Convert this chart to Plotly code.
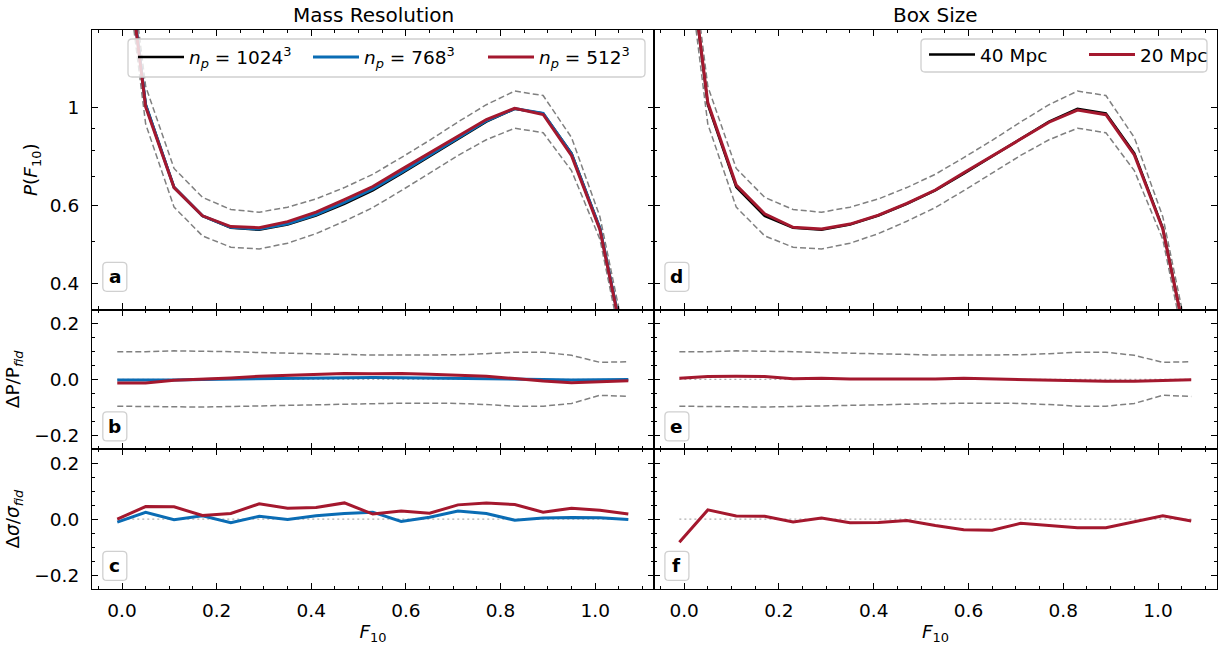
import plotly.graph_objects as go

# ---------------- data ----------------
F10 = [-0.01, 0.05, 0.11, 0.17, 0.23, 0.29, 0.35, 0.41, 0.47, 0.53,
       0.59, 0.65, 0.71, 0.77, 0.83, 0.89, 0.95, 1.01, 1.07]

# P(F10) fiducial (n_p = 1024^3, 40 Mpc)
p_fid = [3.34, 1.018, 0.662, 0.570, 0.536, 0.530, 0.545, 0.571, 0.607, 0.651,
         0.710, 0.777, 0.854, 0.931, 0.995, 0.972, 0.789, 0.535, 0.261]
# n_p = 768^3
p_768 = [3.333, 1.015, 0.661, 0.570, 0.537, 0.532, 0.547, 0.574, 0.611, 0.656,
         0.714, 0.781, 0.857, 0.935, 0.996, 0.972, 0.787, 0.534, 0.261]
# n_p = 512^3
p_512 = [3.30, 1.005, 0.660, 0.570, 0.539, 0.536, 0.553, 0.581, 0.620, 0.664,
         0.725, 0.791, 0.866, 0.941, 0.998, 0.966, 0.780, 0.530, 0.260]
# 20 Mpc box
p_20 = [3.353, 1.028, 0.669, 0.576, 0.537, 0.532, 0.546, 0.572, 0.608, 0.652,
        0.713, 0.779, 0.853, 0.928, 0.989, 0.965, 0.783, 0.532, 0.261]

# relative 1-sigma band (upper / lower)
sig_up = [0.099, 0.099, 0.102, 0.101, 0.099, 0.096, 0.094, 0.090, 0.088, 0.087,
          0.087, 0.087, 0.088, 0.092, 0.097, 0.097, 0.086, 0.061, 0.063]
sig_lo = [-0.096, -0.097, -0.099, -0.099, -0.097, -0.095, -0.093, -0.090, -0.087, -0.086,
          -0.085, -0.085, -0.086, -0.090, -0.096, -0.096, -0.086, -0.057, -0.061]

# Delta P / P_fid
dP_768 = [-0.002, -0.003, -0.002, 0.000, 0.001, 0.003, 0.004, 0.005, 0.007, 0.007,
          0.006, 0.005, 0.004, 0.004, 0.001, 0.000, -0.002, -0.002, 0.000]
dP_512 = [-0.013, -0.013, -0.003, 0.000, 0.005, 0.011, 0.015, 0.018, 0.021, 0.020,
          0.021, 0.018, 0.014, 0.011, 0.003, -0.006, -0.012, -0.009, -0.005]
dP_20 = [0.004, 0.010, 0.011, 0.010, 0.002, 0.004, 0.001, 0.001, 0.001, 0.001,
         0.004, 0.002, -0.001, -0.003, -0.006, -0.007, -0.007, -0.005, -0.001]

# Delta sigma / sigma_fid
ds_768 = [-0.011, 0.024, -0.002, 0.012, -0.013, 0.010, -0.001, 0.012, 0.020, 0.025,
          -0.008, 0.007, 0.029, 0.020, -0.004, 0.004, 0.006, 0.005, -0.001]
ds_512 = [0.000, 0.045, 0.044, 0.013, 0.020, 0.055, 0.039, 0.042, 0.058, 0.018,
          0.029, 0.021, 0.051, 0.058, 0.052, 0.025, 0.039, 0.032, 0.018]
ds_20 = [-0.083, 0.033, 0.011, 0.010, -0.010, 0.004, -0.013, -0.012, -0.005, -0.023,
         -0.038, -0.040, -0.015, -0.023, -0.031, -0.031, -0.010, 0.012, -0.007]

zero = [0.0] * len(F10)
band_up = [p * (1 + s) for p, s in zip(p_fid, sig_up)]
band_lo = [p * (1 + s) for p, s in zip(p_fid, sig_lo)]

BLACK = "#000000"
BLUE = "#0a6cb4"
RED = "#a4182e"
GRAY = "#808080"
FONT = "DejaVu Sans"
FS = 18.5
FS_T = 20

W, H = 1225, 648
ML, MR, MT, MB = 92, 8, 30, 59
PW, PH = W - ML - MR, H - MT - MB


def px_x(px):
    return (px - ML) / PW


def px_y(py):
    return (H - MB - py) / PH


fig = go.Figure()


def line(x, y, xa, ya, color, width=3, dash=None, name=None, legend=None, show=False):
    fig.add_trace(go.Scatter(
        x=x, y=y, mode="lines", xaxis=xa, yaxis=ya,
        line=dict(color=color, width=width, dash=dash),
        name=name, showlegend=show, legend=legend, hoverinfo="skip"))


DASH = "6px,3px"
DOT = "2px,3px"
ZC = "#b0b0b0"

# ---- panel a ----
line(F10, band_up, "x", "y", GRAY, 1.5, DASH)
line(F10, band_lo, "x", "y", GRAY, 1.5, DASH)
line(F10, p_fid, "x", "y", BLACK, 2.5, name="<i>n</i><sub><i>p</i></sub> = 1024<sup>3</sup>", legend="legend", show=True)
line(F10, p_768, "x", "y", BLUE, 3, name="<i>n</i><sub><i>p</i></sub> = 768<sup>3</sup>", legend="legend", show=True)
line(F10, p_512, "x", "y", RED, 3, name="<i>n</i><sub><i>p</i></sub> = 512<sup>3</sup>", legend="legend", show=True)
# ---- panel b ----
line(F10, zero, "x2", "y2", ZC, 1.2, DOT)
line(F10, sig_up, "x2", "y2", GRAY, 1.5, DASH)
line(F10, sig_lo, "x2", "y2", GRAY, 1.5, DASH)
line(F10, dP_768, "x2", "y2", BLUE, 3)
line(F10, dP_512, "x2", "y2", RED, 3)
# ---- panel c ----
line(F10, zero, "x3", "y3", ZC, 1.2, DOT)
line(F10, ds_768, "x3", "y3", BLUE, 3)
line(F10, ds_512, "x3", "y3", RED, 3)
# ---- panel d ----
line(F10, band_up, "x4", "y4", GRAY, 1.5, DASH)
line(F10, band_lo, "x4", "y4", GRAY, 1.5, DASH)
line(F10, p_fid, "x4", "y4", BLACK, 2.5, name="40 Mpc", legend="legend2", show=True)
line(F10, p_20, "x4", "y4", RED, 3, name="20 Mpc", legend="legend2", show=True)
# ---- panel e ----
line(F10, zero, "x5", "y5", ZC, 1.2, DOT)
line(F10, sig_up, "x5", "y5", GRAY, 1.5, DASH)
line(F10, sig_lo, "x5", "y5", GRAY, 1.5, DASH)
line(F10, dP_20, "x5", "y5", RED, 3)
# ---- panel f ----
line(F10, zero, "x6", "y6", ZC, 1.2, DOT)
line(F10, ds_20, "x6", "y6", RED, 3)

XR = [-0.0634, 1.1244]
XL = [0.0, 0.4996]
XRT = [0.4996, 1.0]
Y_TOP = [0.5, 1.0]
Y_MID = [0.25, 0.5]
Y_BOT = [0.0, 0.25]

common = dict(showline=True, linecolor="black", linewidth=1.2, mirror="ticks",
              ticks="inside", ticklen=6, tickwidth=1, tickcolor="black",
              showgrid=False, zeroline=False, automargin=False,
              tickfont=dict(family=FONT, size=FS, color="black"))


def xaxis(domain, anchor, labels):
    d = dict(common)
    d.update(domain=domain, anchor=anchor, range=XR, tickmode="array",
             tickvals=[0.0, 0.2, 0.4, 0.6, 0.8, 1.0],
             ticktext=["0.0", "0.2", "0.4", "0.6", "0.8", "1.0"],
             showticklabels=labels, ticklabelstandoff=5,
             minor=dict(tickmode="array",
                        tickvals=[v / 100 for v in range(-5, 115, 5) if v % 20 != 0],
                        ticks="inside", ticklen=3, tickwidth=1, tickcolor="black"))
    if labels:
        d["title"] = dict(text="<i>F</i><sub>10</sub>", standoff=4,
                          font=dict(family=FONT, size=FS, color="black"))
    return d


def yaxis_top(domain, anchor, labels, title=None):
    d = dict(common)
    d.update(domain=domain, anchor=anchor, type="log",
             range=[-0.45593, 0.17609], tickmode="array",
             tickvals=[0.4, 0.6, 1.0], ticktext=["0.4", "0.6", "1"],
             showticklabels=labels, ticklabelstandoff=8,
             minor=dict(tickmode="array", tickvals=[0.5, 0.7, 0.8, 0.9],
                        ticks="inside", ticklen=3, tickwidth=1, tickcolor="black"))
    if title:
        d["title"] = dict(text=title, standoff=7, font=dict(family=FONT, size=FS, color="black"))
    return d


def yaxis_res(domain, anchor, labels, title=None):
    d = dict(common)
    d.update(domain=domain, anchor=anchor, range=[-0.25, 0.25], tickmode="array",
             tickvals=[-0.2, 0.0, 0.2], ticktext=["\u22120.2", "0.0", "0.2"],
             showticklabels=labels, ticklabelstandoff=8,
             minor=dict(tickmode="array", tickvals=[-0.15, -0.1, -0.05, 0.05, 0.1, 0.15],
                        ticks="inside", ticklen=3, tickwidth=1, tickcolor="black"))
    if title:
        d["title"] = dict(text=title, standoff=9, font=dict(family=FONT, size=FS, color="black"))
    return d


legend_common = dict(orientation="h", xanchor="left", yanchor="middle",
                     bgcolor="rgba(0,0,0,0)", borderwidth=0,
                     font=dict(family=FONT, size=FS, color="black"),
                     entrywidthmode="pixels", itemwidth=46)

layout = dict(
    width=W, height=H,
    margin=dict(l=ML, r=MR, t=MT, b=MB, autoexpand=False),
    paper_bgcolor="white", plot_bgcolor="white",
    font=dict(family=FONT, size=FS, color="black"),
    xaxis=xaxis(XL, "y", False),
    xaxis2=xaxis(XL, "y2", False),
    xaxis3=xaxis(XL, "y3", True),
    xaxis4=xaxis(XRT, "y4", False),
    xaxis5=xaxis(XRT, "y5", False),
    xaxis6=xaxis(XRT, "y6", True),
    yaxis=yaxis_top(Y_TOP, "x", True, "<i>P</i>(<i>F</i><sub>10</sub>)"),
    yaxis2=yaxis_res(Y_MID, "x2", True, "\u0394P/P<sub><i>fid</i></sub>"),
    yaxis3=yaxis_res(Y_BOT, "x3", True, "\u0394<i>\u03c3</i>/<i>\u03c3</i><sub><i>fid</i></sub>"),
    yaxis4=yaxis_top(Y_TOP, "x4", False),
    yaxis5=yaxis_res(Y_MID, "x5", False),
    yaxis6=yaxis_res(Y_BOT, "x6", False),
    legend=dict(legend_common, x=px_x(133), y=px_y(57.5), entrywidth=114),
    legend2=dict(legend_common, x=px_x(924), y=px_y(55), entrywidth=99),
    showlegend=True,
)
fig.update_layout(**layout)


def rounded_box(x0, y0, x1, y1, r=4):
    # pixel coordinates (top-left origin) -> paper path
    X0, X1 = px_x(x0), px_x(x1)
    Y0, Y1 = px_y(y1), px_y(y0)  # bottom, top in paper
    rx, ry = r / PW, r / PH
    return (f"M {X0 + rx},{Y0} L {X1 - rx},{Y0} Q {X1},{Y0} {X1},{Y0 + ry} "
            f"L {X1},{Y1 - ry} Q {X1},{Y1} {X1 - rx},{Y1} L {X0 + rx},{Y1} "
            f"Q {X0},{Y1} {X0},{Y1 - ry} L {X0},{Y0 + ry} Q {X0},{Y0} {X0 + rx},{Y0} Z")


# legend frames
for box in [(128, 39, 645, 77), (921, 39, 1207, 72)]:
    fig.add_shape(type="path", xref="paper", yref="paper", path=rounded_box(*box, r=4),
                  line=dict(color="#d0d0d0", width=1.3), fillcolor="rgba(255,255,255,0.8)",
                  layer="above")

# column titles
for xc, txt in [(0.25, "Mass Resolution"), (0.75, "Box Size")]:
    fig.add_annotation(x=xc, y=1, xref="paper", yref="paper", text=txt,
                       showarrow=False, xanchor="center", yanchor="bottom", yshift=1,
                       font=dict(family=FONT, size=FS_T, color="black"))

# panel labels in rounded boxes
labels = [("a", "x", "y", 0.117), ("b", "x2", "y2", 0.163), ("c", "x3", "y3", 0.165),
          ("d", "x4", "y4", 0.117), ("e", "x5", "y5", 0.163), ("f", "x6", "y6", 0.165)]
hw, hh, r = 12, 14.5, 4
path = (f"M {-hw + r},{-hh} L {hw - r},{-hh} Q {hw},{-hh} {hw},{-hh + r} "
        f"L {hw},{hh - r} Q {hw},{hh} {hw - r},{hh} L {-hw + r},{hh} "
        f"Q {-hw},{hh} {-hw},{hh - r} L {-hw},{-hh + r} Q {-hw},{-hh} {-hw + r},{-hh} Z")
for txt, xa, ya, yf in labels:
    xf = 0.0406
    fig.add_shape(type="path", xref=f"{xa} domain", yref=f"{ya} domain",
                  xsizemode="pixel", ysizemode="pixel", xanchor=xf, yanchor=yf,
                  path=path, line=dict(color="#d0d0d0", width=1.3),
                  fillcolor="rgba(255,255,255,0.85)", layer="above")
    fig.add_annotation(x=xf, y=yf, xref=f"{xa} domain", yref=f"{ya} domain",
                       text=f"<b>{txt}</b>", showarrow=False, xanchor="center",
                       yanchor="middle", font=dict(family=FONT, size=FS, color="black"))

fig.write_html("out.html", config={"displayModeBar": False},
               post_script="document.body.style.margin='0px';")
